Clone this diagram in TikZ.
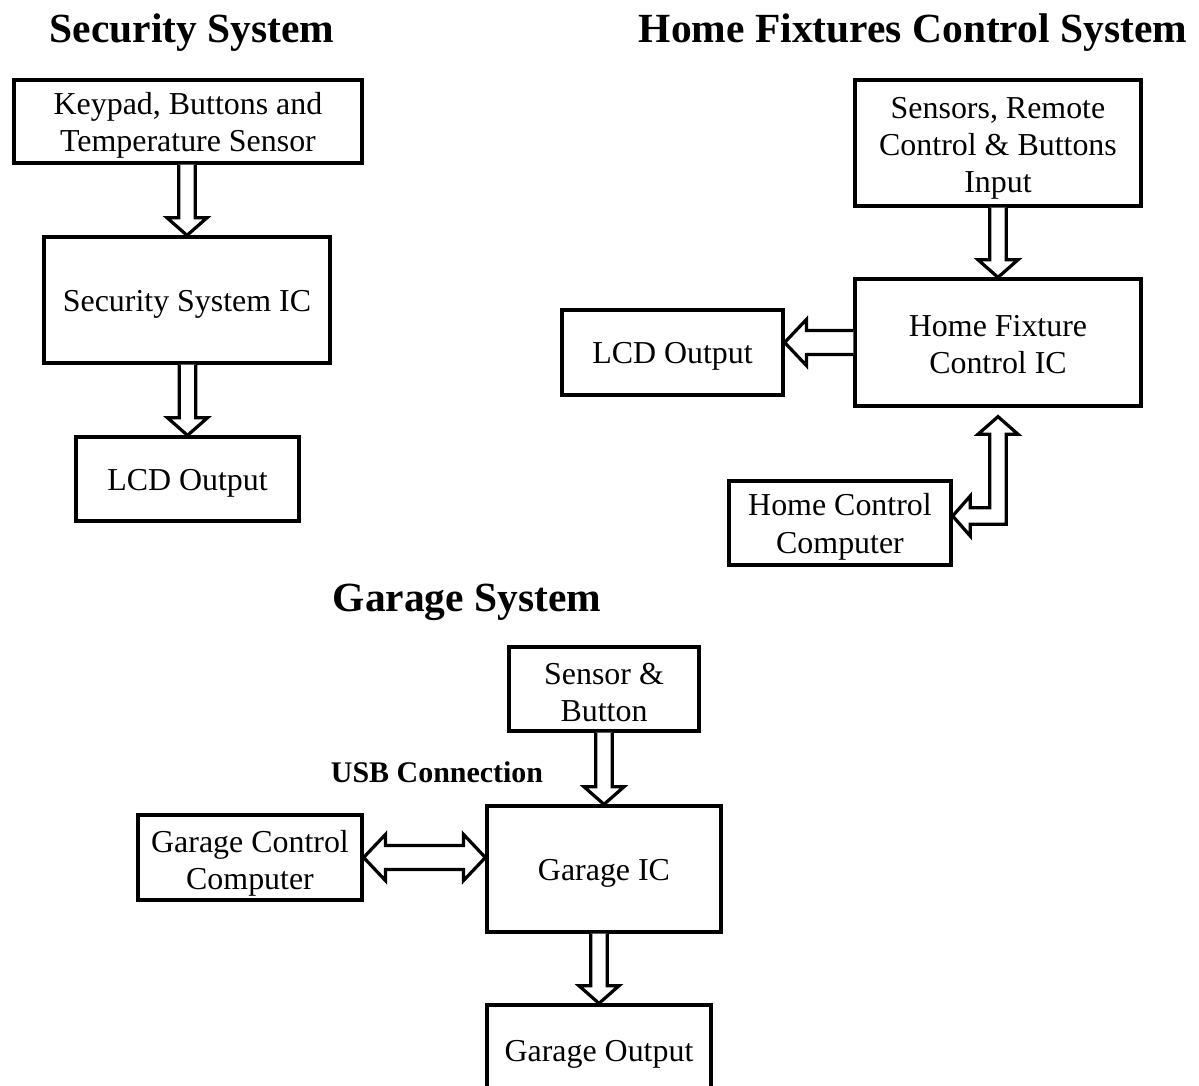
\documentclass[tikz,border=0pt]{standalone}
\usepackage{fontspec}
\setmainfont{Liberation Serif}
\usetikzlibrary{calc}
% sizes of the hollow arrows
\newcommand{\arrsw}{5.9pt}
\newcommand{\arrhw}{14.2pt}
\newcommand{\arrhl}{12.5pt}
\newcommand{\widesw}{8.5pt}
\newcommand{\widehw}{16.4pt}
\newcommand{\widehl}{15.5pt}
\newcommand{\hollowdown}[2]{%
\draw [hollow] let \p1=(#1.south), \p2=(#2.north) in
  (\x2-\arrsw,\y1) -- (\x2-\arrsw,\y2+\arrhl) -- (\x2-\arrhw,\y2+\arrhl) -- (\x2,\y2)
  -- (\x2+\arrhw,\y2+\arrhl) -- (\x2+\arrsw,\y2+\arrhl) -- (\x2+\arrsw,\y1);}
\newcommand{\hollowleft}[2]{%
\draw [hollow] let \p1=(#1.west), \p2=(#2.east) in
  (\x1,\y1+\widesw) -- (\x2+\widehl,\y1+\widesw) -- (\x2+\widehl,\y1+\widehw) -- (\x2,\y1)
  -- (\x2+\widehl,\y1-\widehw) -- (\x2+\widehl,\y1-\widesw) -- (\x1,\y1-\widesw);}
\newcommand{\hollowboth}[2]{%
\draw [hollow] let \p1=(#1.east), \p2=(#2.west) in
  (\x1,\y1) -- (\x1+\widehl,\y1+\widehw) -- (\x1+\widehl,\y1+\widesw) -- (\x2-\widehl,\y1+\widesw)
  -- (\x2-\widehl,\y1+\widehw) -- (\x2,\y1) -- (\x2-\widehl,\y1-\widehw) -- (\x2-\widehl,\y1-\widesw)
  -- (\x1+\widehl,\y1-\widesw) -- (\x1+\widehl,\y1-\widehw) -- cycle;}
\newcommand{\hollowelbow}[2]{%
\draw [hollow] let \p1=($(#1.east)+(0,-7)$), \p2=($(#2.south)+(0,9)$) in
  (\x1,\y1) -- (\x1+\arrhl,\y1+\arrhw) -- (\x1+\arrhl,\y1+\arrsw) -- (\x2-\arrsw,\y1+\arrsw)
  -- (\x2-\arrsw,\y2-\arrhl) -- (\x2-\arrhw,\y2-\arrhl) -- (\x2,\y2) -- (\x2+\arrhw,\y2-\arrhl)
  -- (\x2+\arrsw,\y2-\arrhl) -- (\x2+\arrsw,\y1-\arrsw) -- (\x1+\arrhl,\y1-\arrsw)
  -- (\x1+\arrhl,\y1-\arrhw) -- cycle;}
\begin{document}
\begin{tikzpicture}[x=0.025cm,y=-0.025cm,
  box/.style={draw,line width=2.3pt,align=center,inner sep=2pt,font=\fontsize{22.7}{26.5}\selectfont},
  lift/.style={execute at begin node={\rule{0pt}{#1}}},
  title/.style={font=\bfseries\fontsize{29.5}{34}\selectfont},
  hollow/.style={draw,line width=2.3pt,fill=white,line join=miter}]
\useasboundingbox (0,0) rectangle (1199,1086);
\clip (0,0) rectangle (1199,1086);
% security system
\node [title] (sectitle) at (192,33) {Security System};
\node [box,lift=47.5pt,minimum width=8.7cm,minimum height=2.075cm] (keypad) at (188,121.5) {Keypad, Buttons and\\Temperature Sensor};
\node [box,lift=21pt,minimum width=7.15cm,minimum height=3.15cm] (secic) at (187,300) {Security System IC};
\node [box,lift=21pt,minimum width=5.575cm,minimum height=2.1cm] (seclcd) at (187.5,479) {LCD Output};
\hollowdown{keypad}{secic}
\hollowdown{secic}{seclcd}
% home fixtures control system
\node [title] (hftitle) at (913,33) {Home Fixtures Control System};
\node [box,lift=75.5pt,minimum width=7.15cm,minimum height=3.15cm] (hfin) at (998,143) {Sensors, Remote\\Control \& Buttons\\Input};
\node [box,lift=45pt,minimum width=7.15cm,minimum height=3.175cm] (hfic) at (998,342.5) {Home Fixture\\Control IC};
\node [box,lift=21pt,minimum width=5.525cm,minimum height=2.125cm] (hflcd) at (672.5,352.5) {LCD Output};
\node [box,lift=47.5pt,minimum width=5.55cm,minimum height=2.1cm] (hcc) at (840,523) {Home Control\\Computer};
\hollowdown{hfin}{hfic}
\hollowleft{hfic}{hflcd}
\hollowelbow{hcc}{hfic}
% garage system
\node [title] (gartitle) at (467,602) {Garage System};
\node [box,lift=46.3pt,minimum width=4.75cm,minimum height=2.1cm] (garin) at (604,689) {Sensor \&\\Button};
\node [box,lift=21pt,minimum width=5.85cm,minimum height=3.15cm] (garic) at (604,869) {Garage IC};
\node [box,lift=50pt,minimum width=5.6cm,minimum height=2.125cm] (gcc) at (250,857.5) {Garage Control\\Computer};
\node [box,lift=21pt,minimum width=5.6cm,minimum height=2.25cm] (garout) at (599,1050) {Garage Output};
\node [font=\bfseries\fontsize{21.3}{24}\selectfont] (usb) at (437,772) {USB Connection};
\hollowdown{garin}{garic}
\hollowboth{gcc}{garic}
\hollowdown{garic}{garout}
\end{tikzpicture}
\end{document}
